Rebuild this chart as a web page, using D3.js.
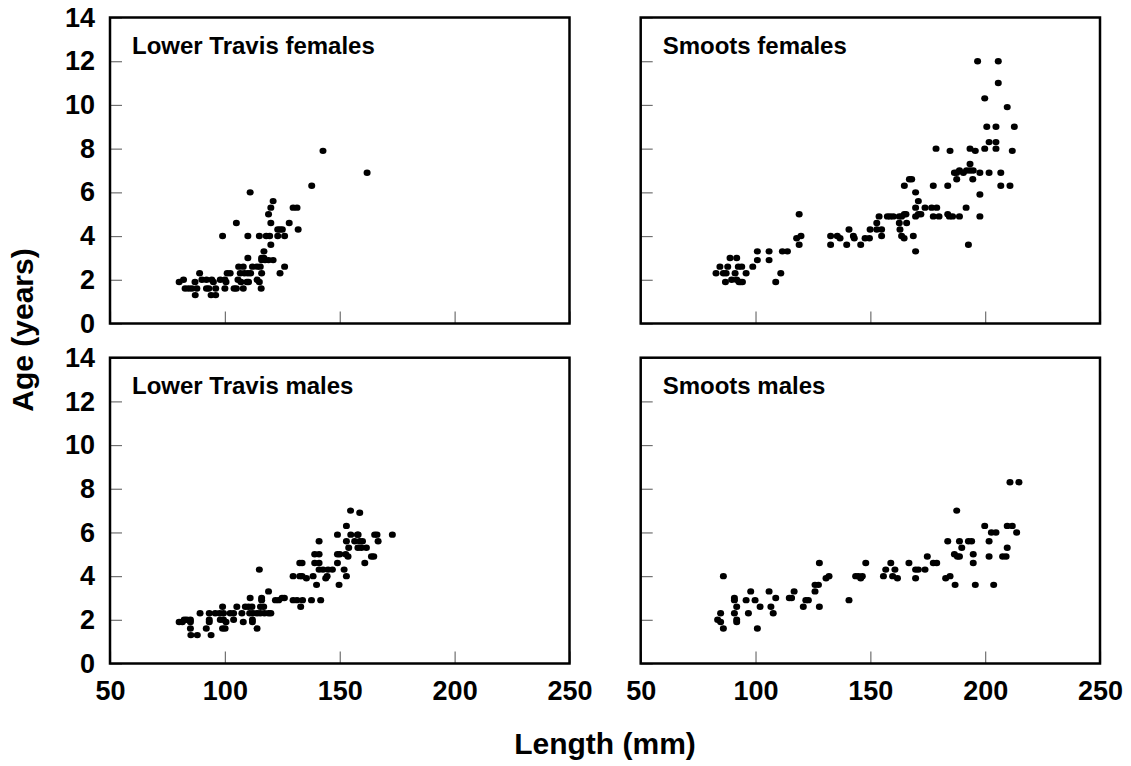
<!DOCTYPE html>
<html>
<head>
<meta charset="utf-8">
<script src="https://cdn.jsdelivr.net/npm/d3@7"></script>
<style>
  html, body { margin: 0; padding: 0; background: #fff; }
  svg { display: block; font-family: "Liberation Sans", Arial, Helvetica, sans-serif; }
</style>
</head>
<body>
<svg id="chart" width="1131" height="766"></svg>
<script>
// ---- Data: [length (mm), age (years)] ----
const lowerTravisFemales = [
  [80.1,1.9],[82,2.0],[82.7,1.6],[84.2,1.6],[85.6,1.6],[87.8,1.6],[87.1,1.3],[89,2.3],[87,1.9],[90,2.0],
  [92,2.0],[94.3,2.0],[92,1.6],[93,1.6],[94,1.3],[96,1.3],[95,1.9],[96,1.6],[98,2.0],[99,4.0],
  [100,2.0],[100,1.6],[100.5,1.9],[101,2.3],[102.3,2.3],[104,1.6],[105,1.6],[105,4.6],[105.7,2.0],[106.7,2.3],
  [106,2.6],[108,2.6],[108,1.6],[107,1.9],[108.5,2.3],[110,2.3],[111.2,2.3],[109.6,1.9],[110.3,1.9],[110,3.0],
  [110,4.0],[111,6.0],[112,2.6],[114,2.6],[115.4,2.6],[114,2.0],[115,1.9],[115.8,1.6],[115,4.0],[116,2.3],
  [116,3.0],[117,3.0],[116,2.9],[117.5,2.9],[119,2.9],[121,2.9],[117,3.3],[120,3.6],[118,4.0],[119.5,4.0],
  [120,4.6],[119,5.0],[120,5.3],[121,5.6],[123,4.0],[126,4.0],[123,4.3],[124,4.3],[125,4.3],[124,2.3],
  [126,2.6],[128,4.6],[129.7,5.3],[131.4,5.3],[131.9,4.3],[137.8,6.3],[142.7,7.9],[161.9,6.9]
];
const smootsFemales = [
  [82.8,2.3],[84.5,2.6],[86,2.3],[87.2,2.3],[86.9,1.9],[87.9,2.6],[88.9,3.0],[89.6,2.0],[91.1,2.3],[91.8,3.0],
  [91.8,2.0],[92.8,1.9],[93.5,1.9],[94.3,1.9],[92.5,2.6],[94,2.6],[95.9,2.3],[98.8,2.6],[100.8,2.9],[100.8,3.3],
  [105.9,3.3],[105.9,2.9],[108.8,1.9],[111,2.3],[111.7,3.3],[113.9,3.3],[117.9,3.9],[119,3.6],[119.8,4.0],[119,5.0],
  [132.7,4.0],[132.7,3.6],[135.6,4.0],[136.8,3.9],[139.7,3.6],[140.7,4.3],[142.6,4.0],[143,3.9],[145.8,3.6],[147.7,3.9],
  [149.6,3.9],[149.9,4.3],[152.8,4.6],[152.8,4.3],[154.9,4.3],[154.9,4.0],[153.8,4.9],[157.4,4.9],[158.6,4.9],[160,4.9],
  [162.6,4.9],[163.6,4.9],[164.8,5.0],[165.5,5.0],[162.6,4.6],[165.8,4.6],[162.9,4.3],[163.6,4.0],[164.7,3.9],[164.8,6.3],
  [167,6.6],[168,6.6],[168.7,4.0],[169.7,3.3],[169.7,6.0],[169.7,4.9],[170.9,5.0],[172,5.0],[169.7,5.3],[170.9,5.6],
  [173.8,5.3],[177.4,6.3],[176.7,5.3],[178.9,5.3],[177.4,4.9],[179.9,4.9],[178.6,8.0],[183.7,6.3],[183.7,5.0],[184.4,4.9],
  [185.8,4.9],[184.7,7.9],[186.6,6.9],[187.6,6.9],[188.8,7.0],[190.5,6.9],[191.9,7.0],[193.4,7.0],[194.8,7.0],[187.6,6.6],
  [188.8,4.9],[191.7,5.3],[192.7,3.6],[193.4,7.3],[193.4,8.0],[194.6,6.6],[195.7,7.9],[196.7,12.0],[197.7,6.9],[197.7,5.9],
  [197.7,4.9],[199.8,10.3],[199.8,8.0],[200.7,9.0],[201.7,8.3],[201.7,6.9],[204.7,9.0],[204.7,8.3],[204.7,8.0],[205.7,12.0],
  [205.7,11.0],[206.8,6.9],[206.8,6.3],[209.6,9.9],[210.8,6.3],[211.8,7.9],[212.7,9.0]
];
const lowerTravisMales = [
  [80.1,1.9],[81.5,1.9],[82.3,2.0],[83.4,2.0],[85,2.0],[85,1.9],[85,1.6],[85.2,1.3],[88,1.3],[89.2,2.3],
  [91.9,1.6],[93.2,2.3],[93.2,2.0],[93.2,1.9],[94,1.3],[95.8,2.3],[97.7,2.3],[99.4,2.3],[98,2.0],[99.4,2.0],
  [100.5,1.9],[99,2.6],[99,1.6],[100.1,1.6],[102.3,2.3],[103.8,2.3],[105.2,2.6],[103.8,2.0],[107.4,2.3],[108,1.9],
  [108.9,2.6],[110.3,2.6],[111.8,2.6],[111,3.0],[110.8,2.3],[112.2,2.3],[114,2.3],[115.4,2.3],[117.2,2.3],[119,2.3],
  [120,2.3],[112,2.0],[112,1.9],[114,1.6],[115,4.3],[116,3.0],[116,2.9],[116.9,2.6],[115.5,2.6],[119,3.3],
  [122,2.9],[123.4,2.9],[124.9,3.0],[125.9,3.0],
  [129.7,4.0],[132.6,4.0],[133.6,4.0],[135.5,3.9],[138.4,4.0],[132.6,4.6],[133.6,4.6],[129.7,2.9],[131.4,2.9],[133.8,2.9],
  [137.7,2.9],[141.7,2.9],[133,2.6],[139.9,3.6],[139.1,4.6],[141,4.6],[139.1,5.0],[141,5.0],[141,5.6],[141,4.3],
  [142.7,4.3],[144.9,4.3],[146.8,4.3],[143.9,3.9],[144.5,4.0],[149,4.6],[149,5.9],[149,5.0],[150,5.0],[149.7,3.6],
  [151.9,4.3],[152.9,4.0],[152.9,6.3],[152.6,5.0],[153.6,4.9],[152.9,5.6],[153.9,5.3],[154.7,7.0],[154.8,5.9],[157.7,5.9],
  [158,5.9],[158.7,6.9],[156.5,5.6],[158.7,5.6],[159.9,5.6],[157.9,5.3],[159.4,5.3],[161.6,5.3],[160.9,4.6],[163.8,4.9],
  [164.8,4.9],[165.2,5.9],[166.2,5.9],[166.7,5.6],[172.9,5.9]
];
const smootsMales = [
  [83.5,2.0],[84.8,1.9],[84.8,2.3],[86,1.6],[86,4.0],[90.8,2.3],[90.8,3.0],[90.8,2.9],[91.8,2.6],[91.8,2.0],
  [91.8,1.9],[95.9,2.9],[96.9,2.3],[97.9,3.3],[99.8,2.9],[100.8,1.6],[102,2.6],[105.9,3.3],[106.7,2.6],[107.7,2.3],
  [108.8,3.0],[114.7,3.0],[115.7,3.0],[116.8,3.3],[120.8,2.6],[121.9,2.9],[123,2.9],[125.9,3.3],[125.9,3.6],[127.4,3.6],
  [127.8,4.6],[127.8,2.6],[130.7,3.9],[132,4.0],[140.7,2.9],[143.6,4.0],[144.8,4.0],[146.5,4.0],[145.8,3.9],[148,4.6],
  [155.7,4.0],[156.7,4.3],[158.9,4.6],[159.7,4.0],[160.7,4.3],[161.8,3.9],[166.8,4.6],[169.7,4.3],[170.9,4.3],[169.7,3.9],
  [173.8,4.3],[174.8,4.9],[177.4,4.6],[178.9,4.6],[182.8,3.9],[184.7,4.0],[183.7,5.6],[186.6,5.0],[187.9,4.9],[188.8,4.9],
  [186.9,3.6],[187.6,7.0],[188.8,5.6],[189.8,5.3],[192.7,5.6],[194.1,5.6],[194.8,5.0],[194.8,4.6],[195.7,3.6],[199.8,6.3],
  [201.7,5.6],[201.7,4.9],[202.7,6.0],[204.7,6.0],[203.7,3.6],[207.6,4.9],[209.1,4.9],[209.6,5.3],[209.6,6.3],[211.8,6.3],
  [210.8,8.3],[213.7,6.0],[214.7,8.3]
];
const panelTitles = ["Lower Travis females", "Smoots females", "Lower Travis males", "Smoots males"];
const xTicks = [50, 100, 150, 200, 250];
const yTicks = [0, 2, 4, 6, 8, 10, 12, 14];
const xDomain = [50, 250];
const yDomain = [0, 14];
const xTitle = "Length (mm)";
const yTitle = "Age (years)";

// ---- Layout ----
const svg = d3.select("#chart");
const cols = [[110, 569.5], [640.7, 1100]];
const rows = [[17.5, 323.5], [357.7, 663.5]];
const panels = [
  { data: lowerTravisFemales, title: panelTitles[0], c: 0, r: 0 },
  { data: smootsFemales,      title: panelTitles[1], c: 1, r: 0 },
  { data: lowerTravisMales,   title: panelTitles[2], c: 0, r: 1 },
  { data: smootsMales,        title: panelTitles[3], c: 1, r: 1 }
];

panels.forEach(p => {
  const [x0, x1] = cols[p.c];
  const [y0, y1] = rows[p.r];
  const x = d3.scaleLinear().domain(xDomain).range([x0, x1]);
  const y = d3.scaleLinear().domain(yDomain).range([y1, y0]);
  const g = svg.append("g");

  // y axis (inside ticks)
  const ya = g.append("g").attr("transform", `translate(${x0},0)`)
    .call(d3.axisLeft(y).tickValues(yTicks).tickSize(-12).tickSizeOuter(0).tickPadding(15)
      .tickFormat(p.c === 0 ? d3.format("d") : () => ""));
  ya.select(".domain").remove();
  ya.selectAll(".tick line").attr("stroke", "#707070").attr("stroke-width", 1.2);
  ya.selectAll(".tick text").attr("font-size", 27).attr("font-weight", "bold").attr("fill", "#000")
    .attr("font-family", "'Liberation Sans', Arial, sans-serif");

  // x axis (inside ticks)
  const xa = g.append("g").attr("transform", `translate(0,${y1})`)
    .call(d3.axisBottom(x).tickValues(xTicks).tickSize(-12).tickSizeOuter(0).tickPadding(17)
      .tickFormat(p.r === 1 ? d3.format("d") : () => ""));
  xa.select(".domain").remove();
  xa.selectAll(".tick line").attr("stroke", "#707070").attr("stroke-width", 1.2);
  xa.selectAll(".tick text").attr("font-size", 27).attr("font-weight", "bold").attr("fill", "#000")
    .attr("font-family", "'Liberation Sans', Arial, sans-serif");

  // points
  g.append("g").selectAll("ellipse").data(p.data).join("ellipse")
    .attr("cx", d => x(d[0])).attr("cy", d => y(d[1]))
    .attr("rx", 3.5).attr("ry", 3.2).attr("fill", "#000");

  // frame
  g.append("rect").attr("x", x0).attr("y", y0).attr("width", x1 - x0).attr("height", y1 - y0)
    .attr("fill", "none").attr("stroke", "#000").attr("stroke-width", 2.5);

  // title
  g.append("text").attr("x", x0 + 22).attr("y", y0 + 36)
    .attr("font-size", 24).attr("font-weight", "bold").attr("fill", "#000").text(p.title);
});

svg.append("text").attr("x", 605).attr("y", 754).attr("text-anchor", "middle")
  .attr("font-size", 30).attr("font-weight", "bold").text(xTitle);
svg.append("text").attr("transform", "translate(33,330) rotate(-90)").attr("text-anchor", "middle")
  .attr("font-size", 30).attr("font-weight", "bold").text(yTitle);
</script>
</body>
</html>
